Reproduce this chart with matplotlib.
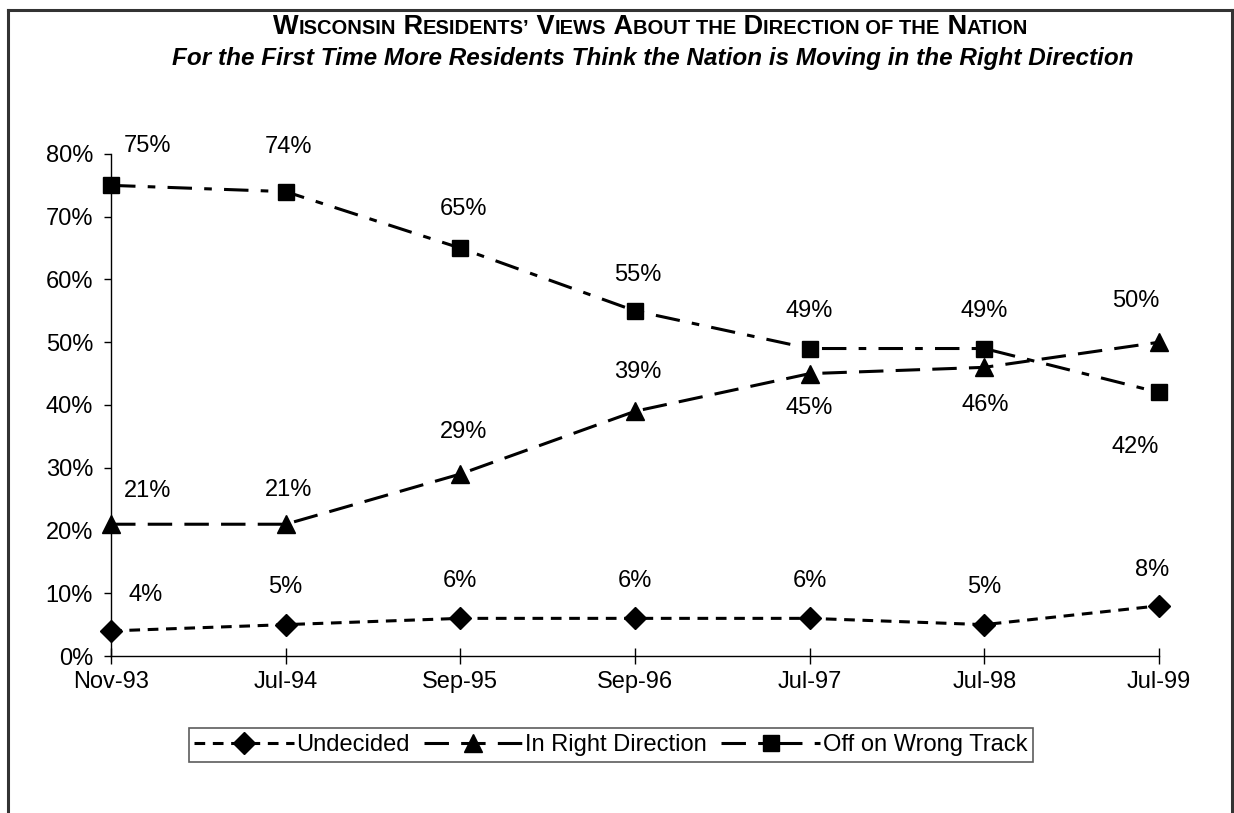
import matplotlib.pyplot as plt
import matplotlib.lines as mlines
from matplotlib import font_manager
from matplotlib.offsetbox import TextArea, HPacker, AnnotationBbox
from matplotlib.ticker import PercentFormatter

# data
periods = ['Nov-93', 'Jul-94', 'Sep-95', 'Sep-96', 'Jul-97', 'Jul-98', 'Jul-99']
undecided = [4, 5, 6, 6, 6, 5, 8]
right_dir = [21, 21, 29, 39, 45, 46, 50]
wrong_track = [75, 74, 65, 55, 49, 49, 42]

names = {f.name for f in font_manager.fontManager.ttflist}
base = 'Liberation Sans' if 'Liberation Sans' in names else 'DejaVu Sans'
narrow = 'Liberation Sans Narrow' if 'Liberation Sans Narrow' in names else base
plt.rcParams['font.family'] = base
fs = 17

fig = plt.figure(figsize=(12.34, 8.13), dpi=100)
ax = fig.add_axes([0.0900, 0.1931, 0.8492, 0.6175])

x = list(range(len(periods)))
lw = 2.2
ax.plot(x, undecided, color='black', lw=lw, ls=(0, (3.5, 2.5)), marker='D',
        ms=11.5, clip_on=False, zorder=3, label='Undecided')
ax.plot(x, right_dir, color='black', lw=lw, ls=(0, (8, 4)), marker='^',
        ms=13, clip_on=False, zorder=3, label='In Right Direction')
ax.plot(x, wrong_track, color='black', lw=lw, ls=(0, (8, 4, 2.5, 4)), marker='s',
        ms=12, clip_on=False, zorder=3, label='Off on Wrong Track')

# label offsets in points (dx, dy)
und_off = [(25, 26), (0, 27), (0, 27), (0, 27), (0, 27), (0, 27), (-5, 26)]
right_off = [(26, 24), (2, 25), (2, 30), (2, 28), (0, -25), (1, -27), (-17, 30)]
wrong_off = [(26, 28), (2, 32), (2, 28), (2, 26), (0, 27), (0, 27), (-17, -39)]

for vals, offs in ((undecided, und_off), (right_dir, right_off), (wrong_track, wrong_off)):
    for xi, v, (dx, dy) in zip(x, vals, offs):
        ax.annotate(f'{v}%', (xi, v), xytext=(dx, dy), textcoords='offset points',
                    ha='center', va='center', fontsize=fs)

ax.set_xlim(0, 6)
ax.set_ylim(0, 80)
ax.set_yticks(range(0, 81, 10))
ax.yaxis.set_major_formatter(PercentFormatter(decimals=0))
ax.set_xticks(x)
ax.set_xticklabels(periods)
ax.tick_params(axis='y', direction='out', length=5, width=1, labelsize=fs, pad=8)
ax.tick_params(axis='x', direction='inout', length=11, width=1, labelsize=fs, pad=5)
for s in ('top', 'right'):
    ax.spines[s].set_visible(False)
for s in ('left', 'bottom'):
    ax.spines[s].set_linewidth(1)

leg = fig.legend(loc='center', bbox_to_anchor=(0.495, 0.0837), ncol=3, fontsize=fs,
                 frameon=True, fancybox=False, edgecolor='#333333', handlelength=4.2,
                 handletextpad=0.1, columnspacing=0.6, borderpad=0.25)
leg.get_frame().set_linewidth(1.2)

# title in small caps, built from pieces
big, small = 19.5, 14.5
pieces = [('W', big), ('ISCONSIN', small), (' R', big), ('ESIDENTS\u2019', small),
          (' V', big), ('IEWS', small), (' A', big), ('BOUT THE', small),
          (' D', big), ('IRECTION OF THE', small), (' N', big), ('ATION', small)]
boxes = [TextArea(t, textprops=dict(fontsize=s, fontweight='bold', family=narrow))
         for t, s in pieces]
title = HPacker(children=boxes, align='baseline', pad=0, sep=0)
fig.add_artist(AnnotationBbox(title, (0.527, 0.967), xycoords='figure fraction',
                              frameon=False, box_alignment=(0.5, 0.5)))
fig.text(0.529, 0.928, 'For the First Time More Residents Think the Nation is Moving in the Right Direction',
         ha='center', va='center', fontsize=17.5, fontweight='bold', style='italic', family=narrow)

# outer frame
for xs, ys in (([0.0065, 0.9985], [0.9875, 0.9875]), ([0.0065, 0.0065], [0.0, 0.9875]),
               ([0.9985, 0.9985], [0.0, 0.9875])):
    fig.add_artist(mlines.Line2D(xs, ys, color='#333333', lw=2.2))

fig.savefig('out.png', dpi=100)
